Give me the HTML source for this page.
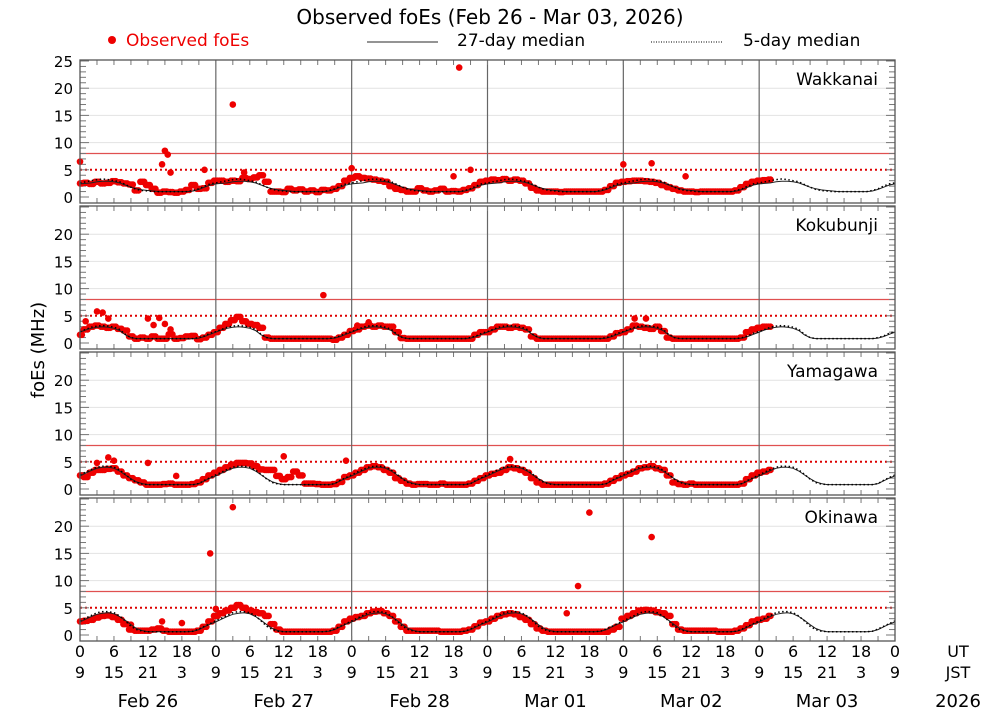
<!DOCTYPE html>
<html><head><meta charset="utf-8"><style>
html,body{margin:0;padding:0;background:#fff;}
svg{display:block;font-family:"DejaVu Sans","Liberation Sans",sans-serif;}
</style></head><body>
<svg id="chart" width="1000" height="714" viewBox="0 0 1000 714" xmlns="http://www.w3.org/2000/svg">
<text x="490" y="24" font-size="20" text-anchor="middle">Observed foEs (Feb 26 - Mar 03, 2026)</text>
<g font-size="17">
<circle cx="112" cy="40" r="4" fill="#e00"/>
<text x="126" y="46" fill="#e00">Observed foEs</text>
<line x1="367" y1="42" x2="438" y2="42" stroke="#555" stroke-width="1.2"/>
<text x="457" y="46">27-day median</text>
<line x1="651" y1="42" x2="723" y2="42" stroke="#333" stroke-width="1.2" stroke-dasharray="1,1.5"/>
<text x="743" y="46">5-day median</text>
</g>
<text transform="translate(44,350) rotate(-90)" font-size="18" text-anchor="middle">foEs (MHz)</text>
<g id="panels"></g>
<g id="xaxis" font-size="16"></g>
</svg>
<script>
const stations = ["Wakkanai","Kokubunji","Yamagawa","Okinawa"];
const obsWakkanai = [2.5,2.6,2.4,2.8,2.5,2.6,2.9,2.7,2.5,2.3,1.2,2.8,2.2,1.5,0.8,1,0.9,0.8,1,1.3,2.2,1.5,1.6,2.6,
3,3,2.8,3,2.9,3.5,3.3,3.6,4,2.8,1,1,0.9,1.5,1.2,1.4,1,1.2,0.9,1.3,1.2,1.5,2,3,
3.5,3.8,3.5,3.4,3.2,3,2.8,2,1.5,1.3,1,1,1.6,1.2,1,1.2,1.5,1,1.1,1,1.3,1.6,2.2,2.8,
3,3.2,3.1,3.3,3,3.2,3,2.5,1.7,1.2,1,1,1,0.9,1,1,1,1,1,1,1,1.3,2,2.6,
2.8,2.9,3,3,2.9,2.8,2.6,2.2,1.8,1.5,1.2,1,1,0.9,1,1,1,1,1,1,1.2,1.8,2.4,2.8,
3,3.1,3.2];
const outWakkanai = [[0,6.5],[14.5,6],[15,8.5],[15.5,7.8],[16,4.5],[22,5],[27,17],[29,4.5],[48,5.3],[67,23.8],[66,3.8],[69,5],[96,6],[101,6.2],[107,3.8]];
const obsKokubunji = [1.5,2.5,3,3.2,3,2.8,3,2.6,2.3,1.2,0.8,1,0.8,1.2,0.8,0.8,1.6,0.8,0.9,1.2,1.3,0.7,1,1.5,
2,2.8,3.5,4.2,4.8,4,3.5,3.3,2.8,1,0.8,0.8,0.8,0.8,0.8,0.8,0.8,0.8,0.8,0.8,0.8,0.6,1,1.5,
2.2,2.5,3,3.2,3,3.2,3,3,2,0.9,0.8,0.8,0.8,0.8,0.8,0.8,0.8,0.8,0.8,0.8,0.8,0.8,1.5,2,
2,2.5,3,3,2.8,3,2.8,2.5,1.2,0.8,0.8,0.8,0.8,0.8,0.8,0.8,0.8,0.8,0.8,0.8,0.8,0.8,1.2,1.8,
2,2.5,3.2,3,2.8,2.6,3,2.2,1,0.8,0.8,0.8,0.8,0.8,0.8,0.8,0.8,0.8,0.8,0.8,0.8,1,2,2.5,
2.8,3,3];
const outKokubunji = [[3,5.8],[4,5.6],[5,4.5],[1,4],[12,4.5],[13,3.3],[14,4.6],[15,3.5],[16,2.5],[43,8.8],[49,3.2],[51,3.8],[98,4.5],[100,4.5]];
const obsYamagawa = [2.5,2.2,3,3.5,3.5,3.7,3.8,3.2,2.5,2,1.6,1.2,0.8,0.8,0.8,0.9,1,0.8,0.8,0.8,0.9,1.2,1.8,2.5,
3,3.5,4,4.5,4.8,4.8,4.7,4.2,3.6,3.5,3.5,2.4,1.8,2.2,3.2,2.5,1,1,0.9,0.8,0.8,0.9,1.3,2.2,
2.5,3,3.5,4,4.2,4,3.5,3,2,1.5,1,0.8,0.9,0.9,0.8,0.8,1,0.8,0.8,0.8,0.8,1,1.5,2,
2.5,2.8,3,3.5,4,3.8,3.5,3,2,1.2,0.8,0.8,0.8,0.8,0.8,0.8,0.8,0.8,0.8,0.8,0.8,1,1.5,2,
2.5,2.8,3.2,3.8,4,4.2,3.8,3.5,2.5,1.2,0.9,0.8,1,0.8,0.8,0.8,0.8,0.8,0.8,0.8,0.8,1,1.8,2.5,
3,3.2,3.5];
const outYamagawa = [[3,4.8],[5,5.8],[6,5.2],[12,4.8],[17,2.4],[36,6],[47,5.2],[76,5.5]];
const obsOkinawa = [2.5,2.6,2.8,3.2,3.5,3.6,3.3,2.8,2,1,0.8,0.8,0.8,1,1.2,0.8,0.6,0.6,0.6,0.6,0.6,0.8,1.5,2.5,
3.5,4,4.5,5,5.5,5,4.5,4.2,4,3.5,2,1,0.6,0.6,0.6,0.6,0.6,0.6,0.6,0.6,0.6,0.8,1.5,2.5,
3,3.3,3.5,4,4.3,4.4,4,3.5,2.5,1.5,0.8,0.8,0.8,0.8,0.8,0.8,0.6,0.6,0.6,0.6,0.8,1,1.6,2.3,
2.5,3,3.5,3.8,4,3.8,3.3,2.8,2,1.2,0.8,0.6,0.6,0.6,0.6,0.6,0.6,0.6,0.6,0.6,0.6,0.6,1,1.5,
3,3.5,4,4.5,4.6,4.5,4.2,4,3.5,2,1,0.8,0.8,0.8,0.8,0.8,0.8,0.6,0.6,0.6,0.8,1.2,1.8,2.5,
2.8,3,3.5];
const outOkinawa = [[23,15],[9,1.9],[14.5,2.5],[18,2.2],[27,23.5],[24,4.8],[86,4],[88,9],[90,22.5],[101,18]];
const med27Wakkanai = [2.4,2.5,2.6,2.8,2.9,2.9,2.8,2.6,2.2,1.8,1.5,1.3,1.2,1.1,1,1,1,1,1,1,1.1,1.4,1.8,2.2];
const med5Wakkanai = [2.6,2.8,3,3.2,3.3,3.2,3,2.8,2.3,1.8,1.4,1.2,1.1,1,1,1,1,1,1,1,1.2,1.5,2,2.4];
const med27Kokubunji = [2,2.4,2.7,2.9,3,2.9,2.7,2.3,1.5,1,0.8,0.8,0.8,0.8,0.8,0.8,0.8,0.8,0.8,0.8,0.8,0.9,1.2,1.6];
const med5Kokubunji = [2.1,2.5,2.9,3.1,3.2,3.1,2.9,2.5,1.6,1,0.8,0.8,0.8,0.8,0.8,0.8,0.8,0.8,0.8,0.8,0.8,1,1.3,1.8];
const med27Yamagawa = [2.4,2.9,3.4,3.8,4,4,3.8,3.3,2.6,1.9,1.3,1,0.8,0.8,0.8,0.8,0.8,0.8,0.8,0.8,0.8,1,1.5,2];
const med5Yamagawa = [2.6,3.1,3.6,4,4.2,4.2,4,3.5,2.7,1.8,1.2,0.9,0.8,0.8,0.8,0.8,0.8,0.8,0.8,0.8,0.8,1,1.6,2.1];
const med27Okinawa = [2.4,2.9,3.4,3.8,4,4.1,3.9,3.4,2.7,1.9,1.2,0.8,0.6,0.6,0.6,0.6,0.6,0.6,0.6,0.6,0.7,1,1.5,2];
const med5Okinawa = [2.6,3.1,3.6,4.1,4.3,4.3,4.1,3.5,2.6,1.6,1,0.7,0.6,0.6,0.6,0.6,0.6,0.6,0.6,0.6,0.7,1.1,1.6,2.1];
const dayLabels = ["Feb 26","Feb 27","Feb 28","Mar 01","Mar 02","Mar 03"];
const utLabels = ["0","6","12","18"];
const jstLabels = ["9","15","21","3"];

const obsAll=[obsWakkanai,obsKokubunji,obsYamagawa,obsOkinawa];
const outAll=[outWakkanai,outKokubunji,outYamagawa,outOkinawa];
const m27All=[med27Wakkanai,med27Kokubunji,med27Yamagawa,med27Okinawa];
const m5All=[med5Wakkanai,med5Kokubunji,med5Yamagawa,med5Okinawa];
const NS="http://www.w3.org/2000/svg";
const X0=80,X1=895,HOURS=144;
const tops=[60,206,352,498],PH=143;
function xs(h){return X0+h*(X1-X0)/HOURS;}
function ys(p,v){return tops[p]+137-v*5.44;}
function mk(tag,attrs,parent){const e=document.createElementNS(NS,tag);for(const k in attrs)e.setAttribute(k,attrs[k]);parent.appendChild(e);return e;}
const panels=document.getElementById('panels');
stations.forEach((st,p)=>{
  const g=mk('g',{},panels);
  
  
  const top=tops[p],bot=top+PH;
  [10,15,20].forEach(v=>{const l=mk('line',{x1:X0,x2:X1,y1:ys(p,v),y2:ys(p,v),stroke:'#e2e2e2','stroke-width':1},g);
    
    });
  const t8=mk('line',{x1:X0,x2:X1,y1:ys(p,8),y2:ys(p,8),stroke:'#e05050','stroke-width':1.2},g);
  
  
  const t5=mk('line',{x1:X0,x2:X1,y1:ys(p,5),y2:ys(p,5),stroke:'#d00','stroke-width':2,'stroke-dasharray':'2,3'},g);
  
  
  for(let d=1;d<6;d++){const l=mk('line',{x1:xs(d*24),x2:xs(d*24),y1:top,y2:bot,stroke:'#666','stroke-width':1.2},g);
    
    }
  for(let v=0;v<=25;v++){const len=v%5==0?9:6;const y=ys(p,v);if(y<top)continue;
    mk('line',{x1:X0,x2:X0+len,y1:y,y2:y,stroke:'#777','stroke-width':1},g);
    mk('line',{x1:X1-len,x2:X1,y1:y,y2:y,stroke:'#777','stroke-width':1},g);
    if(v%5==0&&(v<25||p==0)){const t=mk('text',{x:73,y:y+6,'font-size':15,'text-anchor':'end'},g);t.textContent=v;
      
      }}
  for(let h=0;h<=HOURS;h+=3){const x=xs(h);
    mk('line',{x1:x,x2:x,y1:bot,y2:bot-5,stroke:'#777','stroke-width':1},g);
    mk('line',{x1:x,x2:x,y1:top,y2:top+5,stroke:'#777','stroke-width':1},g);}
  let d27='',d5='';
  for(let h=0;h<=HOURS;h++){d27+=(h?'L':'M')+xs(h).toFixed(1)+','+ys(p,m27All[p][h%24]).toFixed(1);
    d5+=(h?'L':'M')+xs(h).toFixed(1)+','+ys(p,m5All[p][h%24]).toFixed(1);}
  const og=mk('g',{fill:'#e00'},g);
  
  
  const arr=obsAll[p];
  arr.forEach((v,h)=>{
    const c=mk('circle',{cx:xs(h),cy:ys(p,v),r:3.3},og);
    
    
    if(h<arr.length-1){
      [0.33,0.67].forEach(f=>{const c2=mk('circle',{cx:xs(h+f),cy:ys(p,f<0.5?v:arr[h+1]),r:3.3},og);
        
        });
    }
  });
  outAll[p].forEach(([h,v])=>{const c=mk('circle',{cx:xs(h),cy:ys(p,v),r:3.3},og);
    
    });
  const l27=mk('path',{d:d27,fill:'none',stroke:'#222','stroke-width':1},g);
  
  
  const l5=mk('path',{d:d5,fill:'none',stroke:'#000','stroke-width':1.5,'stroke-dasharray':'1.5,2.5'},g);
  
  
  const fr=mk('rect',{x:X0,y:top,width:X1-X0,height:PH,fill:'none',stroke:'#555','stroke-width':1.3},g);
  
  
  const nm=mk('text',{x:878,y:top+25,'font-size':17,'text-anchor':'end'},g);nm.textContent=st;
  
  
});
const xa=document.getElementById('xaxis');
for(let h=0;h<=HOURS;h+=6){const i=(h/6)%4;
  const a=mk('text',{x:xs(h),y:657,'text-anchor':'middle'},xa);a.textContent=utLabels[i];
  
  
  const b=mk('text',{x:xs(h),y:678,'text-anchor':'middle'},xa);b.textContent=jstLabels[i];
  
  }
dayLabels.forEach((d,i)=>{const t=mk('text',{x:xs(i*24+12),y:707,'text-anchor':'middle','font-size':18},xa);t.textContent=d;
  
  });
[['UT',657,16],['JST',678,16],['2026',707,18]].forEach(([s,y,f])=>{const t=mk('text',{x:958,y:y,'text-anchor':'middle','font-size':f},xa);t.textContent=s;
  
  });
</script>
</body></html>
